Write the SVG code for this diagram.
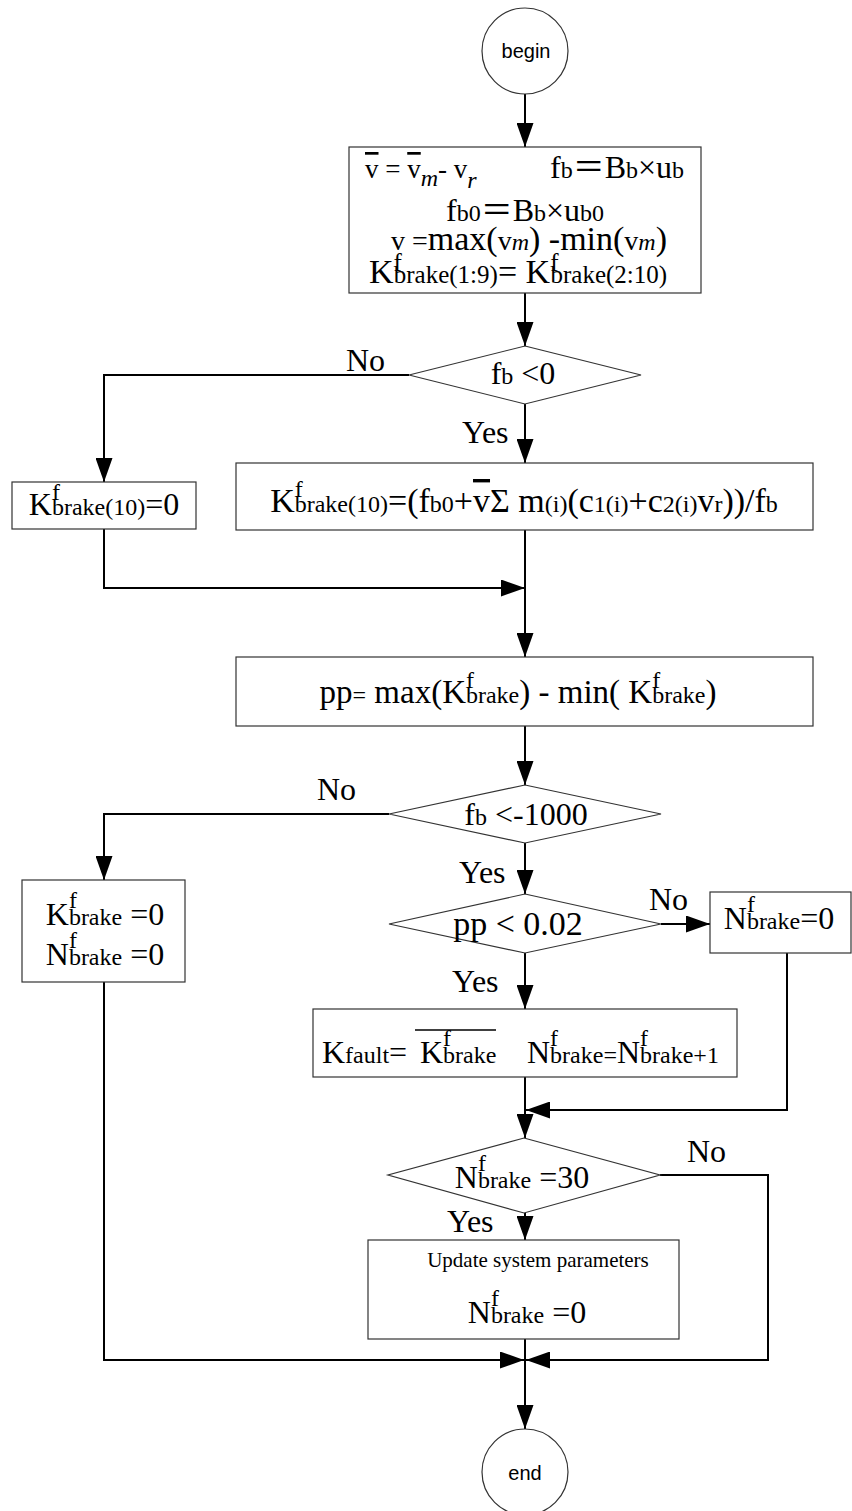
<svg xmlns="http://www.w3.org/2000/svg" width="852" height="1511" viewBox="0 0 852 1511">
<style>
.t{font-family:"Liberation Serif","Times New Roman",serif;fill:#000}
.sans{font-family:"Liberation Sans",Arial,sans-serif;fill:#000;font-size:20px}
.sh{fill:#fff;stroke:#333;stroke-width:1.2}
.c{fill:none;stroke:#000;stroke-width:2}
.lb{font-size:32px}
.B{font-size:32px}
.s{font-size:24px}
.i{font-style:italic}
.ov{text-decoration:overline}
.eq{font-family:"Noto Sans CJK SC",sans-serif}
</style>
<defs>
<marker id="a" markerUnits="userSpaceOnUse" markerWidth="24" markerHeight="17" viewBox="0 0 24 17" refX="24" refY="8.5" orient="auto"><path d="M0,0L24,8.5L0,17z" fill="#000"/></marker>
</defs>
<rect width="852" height="1511" fill="#fff"/>
<g id="connectors">
<path class="c" d="M525,94V147" marker-end="url(#a)"/>
<path class="c" d="M525,293V346" marker-end="url(#a)"/>
<path class="c" d="M409,375H104V482" marker-end="url(#a)"/>
<path class="c" d="M525,404V463" marker-end="url(#a)"/>
<path class="c" d="M104,529V588H525" marker-end="url(#a)"/>
<path class="c" d="M525,530V657" marker-end="url(#a)"/>
<path class="c" d="M525,726V785" marker-end="url(#a)"/>
<path class="c" d="M389,814H104V880" marker-end="url(#a)"/>
<path class="c" d="M525,843V894" marker-end="url(#a)"/>
<path class="c" d="M661,924H710" marker-end="url(#a)"/>
<path class="c" d="M525,953V1009" marker-end="url(#a)"/>
<path class="c" d="M525,1077V1138" marker-end="url(#a)"/>
<path class="c" d="M787,953V1110H526" marker-end="url(#a)"/>
<path class="c" d="M660,1175H768V1360H526" marker-end="url(#a)"/>
<path class="c" d="M525,1213V1240" marker-end="url(#a)"/>
<path class="c" d="M104,982V1360H524" marker-end="url(#a)"/>
<path class="c" d="M525,1339V1429" marker-end="url(#a)"/>
<g class="t lb">
<text x="346" y="371">No</text>
<text x="462" y="443">Yes</text>
<text x="317" y="800">No</text>
<text x="459" y="883">Yes</text>
<text x="649" y="910">No</text>
<text x="452" y="992">Yes</text>
<text x="687" y="1162">No</text>
<text x="447" y="1232">Yes</text>
</g>
</g>
<g id="begin">
<circle class="sh" cx="525" cy="51" r="43"/>
<text class="sans" x="526" y="58" text-anchor="middle">begin</text>
</g>
<g id="init">
<rect class="sh" x="349" y="147" width="352" height="146"/>
<text class="t" x="365" y="178" font-size="27"><tspan class="ov">v</tspan> = <tspan class="ov">v</tspan><tspan class="s i" dy="8">m</tspan><tspan dy="-8">- v</tspan><tspan class="s i" dy="10">r</tspan></text>
<text class="t B" x="550" y="178">f<tspan class="s">b</tspan><tspan class="eq">＝</tspan>B<tspan class="s">b</tspan>×u<tspan class="s">b</tspan></text>
<text class="t B" x="525" y="221" text-anchor="middle">f<tspan class="s">b0</tspan><tspan class="eq">＝</tspan>B<tspan class="s">b</tspan>×u<tspan class="s">b0</tspan></text>
<text class="t" x="529" y="250" text-anchor="middle" font-size="34"><tspan font-size="28">v =</tspan>max(<tspan font-size="28">v</tspan><tspan class="s i">m</tspan>) -min(<tspan font-size="28">v</tspan><tspan class="s i">m</tspan>)</text>
<text class="t" x="518" y="283" text-anchor="middle" font-size="34">K<tspan font-size="25" dy="-12">f</tspan><tspan font-size="25" dx="-8" dy="12">brake(1:9)</tspan>= K<tspan font-size="25" dy="-12">f</tspan><tspan font-size="25" dx="-8" dy="12">brake(2:10)</tspan></text>
</g>
<g id="dec1">
<polygon class="sh" points="525,346 641,375 525,404 409,375"/>
<text class="t B" x="523" y="384" text-anchor="middle">f<tspan class="s">b</tspan> &lt;0</text>
</g>
<g id="k10zero">
<rect class="sh" x="12" y="482" width="184" height="47"/>
<text class="t B" x="104" y="515" text-anchor="middle">K<tspan class="s" dy="-15">f</tspan><tspan class="s" dx="-8" dy="15">brake(10)</tspan>=0</text>
</g>
<g id="k10calc">
<rect class="sh" x="236" y="463" width="577" height="67"/>
<text class="t" x="524" y="512" text-anchor="middle" font-size="34">K<tspan class="s" dy="-15">f</tspan><tspan class="s" dx="-8" dy="15">brake(10)</tspan>=(f<tspan class="s">b0</tspan>+<tspan class="ov">v</tspan>Σ m<tspan class="s">(i)</tspan>(c<tspan class="s">1(i)</tspan>+c<tspan class="s">2(i)</tspan>v<tspan class="s">r</tspan>))/f<tspan class="s">b</tspan></text>
</g>
<g id="pp">
<rect class="sh" x="236" y="657" width="577" height="69"/>
<text class="t" x="518" y="703" text-anchor="middle" font-size="33">pp<tspan class="s">=</tspan> max(K<tspan class="s" dy="-15">f</tspan><tspan class="s" dx="-8" dy="15">brake</tspan>) - min( K<tspan class="s" dy="-15">f</tspan><tspan class="s" dx="-8" dy="15">brake</tspan>)</text>
</g>
<g id="dec2">
<polygon class="sh" points="525,785 661,814 525,843 389,814"/>
<text class="t B" x="526" y="825" text-anchor="middle">f<tspan class="s">b</tspan> &lt;-1000</text>
</g>
<g id="reset">
<rect class="sh" x="22" y="880" width="163" height="102"/>
<text class="t B" x="105" y="925" text-anchor="middle">K<tspan class="s" dy="-17">f</tspan><tspan class="s" dx="-8" dy="17">brake</tspan> =0</text>
<text class="t B" x="105" y="965" text-anchor="middle">N<tspan class="s" dy="-17">f</tspan><tspan class="s" dx="-8" dy="17">brake</tspan> =0</text>
</g>
<g id="dec3">
<polygon class="sh" points="525,894 661,924 525,953 389,924"/>
<text class="t" x="518" y="935" text-anchor="middle" font-size="34">pp &lt; 0.02</text>
</g>
<g id="nzero">
<rect class="sh" x="710" y="892" width="141" height="61"/>
<text class="t B" x="779" y="929" text-anchor="middle">N<tspan class="s" dy="-17">f</tspan><tspan class="s" dx="-8" dy="17">brake</tspan>=0</text>
</g>
<g id="kfault">
<rect class="sh" x="313" y="1009" width="424" height="68"/>
<text class="t B" x="322" y="1063">K<tspan class="s">fault</tspan>= <tspan x="420">K</tspan><tspan class="s" dy="-17">f</tspan><tspan class="s" dx="-8" dy="17">brake</tspan><tspan x="527">N</tspan><tspan class="s" dy="-17">f</tspan><tspan class="s" dx="-8" dy="17">brake=</tspan>N<tspan class="s" dy="-17">f</tspan><tspan class="s" dx="-8" dy="17">brake+1</tspan></text>
<line x1="415" y1="1030" x2="496" y2="1030" stroke="#000" stroke-width="1.5"/>
</g>
<g id="dec4">
<polygon class="sh" points="524,1138 660,1175 524,1213 388,1175"/>
<text class="t B" x="522" y="1188" text-anchor="middle">N<tspan class="s" dy="-17">f</tspan><tspan class="s" dx="-8" dy="17">brake</tspan> =30</text>
</g>
<g id="update">
<rect class="sh" x="368" y="1240" width="311" height="99"/>
<text class="t" x="538" y="1267" text-anchor="middle" font-size="21">Update system parameters</text>
<text class="t B" x="527" y="1323" text-anchor="middle">N<tspan class="s" dy="-17">f</tspan><tspan class="s" dx="-8" dy="17">brake</tspan> =0</text>
</g>
<g id="end">
<circle class="sh" cx="525" cy="1472" r="43"/>
<text class="sans" x="525" y="1480" text-anchor="middle">end</text>
</g>
</svg>
